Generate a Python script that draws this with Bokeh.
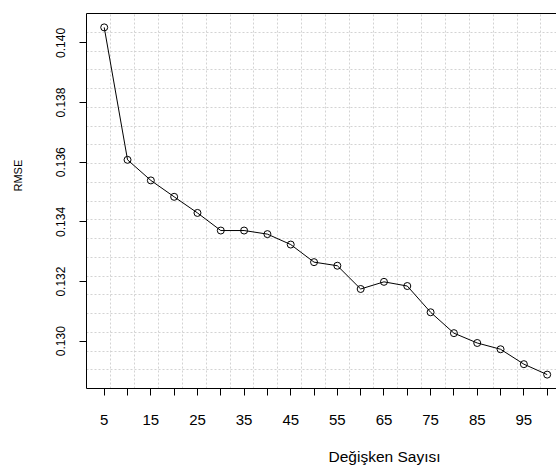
from bokeh.plotting import figure
from bokeh.models import FixedTicker, LinearAxis, Range1d, PrintfTickFormatter, Title
from bokeh.embed import file_html
from bokeh.resources import INLINE

# ---- data ----
n_vars = [5, 10, 15, 20, 25, 30, 35, 40, 45, 50, 55, 60, 65, 70, 75, 80, 85, 90, 95, 100]
rmse = [0.14052, 0.13608, 0.13539, 0.13484, 0.13430, 0.13371, 0.13371, 0.13359,
        0.13324, 0.13265, 0.13253, 0.13175, 0.13199, 0.13185, 0.13097, 0.13027,
        0.12994, 0.12973, 0.12923, 0.12888]
x_ticks_all = [5, 10, 15, 20, 25, 30, 35, 40, 45, 50, 55, 60, 65, 70, 75, 80, 85, 90, 95, 100]
x_ticks_labeled = [5, 15, 25, 35, 45, 55, 65, 75, 85, 95]
y_ticks = [0.130, 0.132, 0.134, 0.136, 0.138, 0.140]
x_title = "Değişken Sayısı"
y_title = "RMSE"

FONT = "Liberation Sans"

# R-style axis limits (4% extension)
xr = max(n_vars) - min(n_vars)
x_lo, x_hi_r = min(n_vars) - 0.04 * xr, max(n_vars) + 0.04 * xr
yr = max(rmse) - min(rmse)
y_lo, y_hi = min(rmse) - 0.04 * yr, max(rmse) + 0.04 * yr
x_hi = 102.0  # visible part of the (cropped) plot region

W, H = 556, 467
ML, MR, MT, MB = 86, 0, 13, 79

p = figure(width=W, height=H, x_range=Range1d(x_lo, x_hi), y_range=Range1d(y_lo, y_hi),
           output_backend="svg", toolbar_location=None,
           min_border_left=ML, min_border_right=MR, min_border_top=MT, min_border_bottom=MB)
p.outline_line_color = None
p.background_fill_color = "white"
p.border_fill_color = "white"

# grid like R grid(20, 20)
gx = [x_lo + k * (x_hi_r - x_lo) / 20 for k in range(1, 20)]
gy = [y_lo + k * (y_hi - y_lo) / 20 for k in range(1, 20)]
p.xgrid.ticker = FixedTicker(ticks=gx)
p.ygrid.ticker = FixedTicker(ticks=gy)
for g in (p.xgrid, p.ygrid):
    g.grid_line_color = "#d3d3d3"
    g.grid_line_dash = "2 2"
    g.grid_line_width = 1

# x axis
xa = p.xaxis[0]
xa.ticker = FixedTicker(ticks=x_ticks_labeled,
                        minor_ticks=[t for t in x_ticks_all if t not in x_ticks_labeled])
xa.axis_line_color = "black"
xa.major_tick_line_color = "black"
xa.minor_tick_line_color = "black"
xa.major_tick_in = 0
xa.major_tick_out = 7
xa.minor_tick_in = 0
xa.minor_tick_out = 7
xa.major_label_standoff = 19
xa.major_label_text_font = FONT
xa.major_label_text_font_size = "15px"
xa.major_label_text_color = "black"
# invisible spacer between tick labels and the title
xa.axis_label = " "
xa.axis_label_text_font_size = "1px"
xa.axis_label_text_alpha = 0
xa.axis_label_standoff = 16

# y axis
ya = p.yaxis[0]
ya.ticker = FixedTicker(ticks=y_ticks)
ya.formatter = PrintfTickFormatter(format="%.3f")
ya.axis_line_color = "black"
ya.major_tick_line_color = "black"
ya.major_tick_in = 0
ya.major_tick_out = 7
ya.minor_tick_line_color = None
ya.major_label_orientation = "parallel"
ya.major_label_standoff = 14
ya.major_label_text_font = FONT
ya.major_label_text_font_size = "12px"
ya.major_label_text_color = "black"
ya.axis_label = " "
ya.axis_label_text_font_size = "1px"
ya.axis_label_text_alpha = 0
ya.axis_label_standoff = 24

# axis titles (offset along the axis as in the reference)
p.add_layout(Title(text=x_title, align="left", offset=242, vertical_align="top", standoff=0,
                   text_font=FONT, text_font_size="15.5px", text_font_style="normal",
                   text_color="black"), "below")
p.add_layout(Title(text=y_title, align="left", offset=197, vertical_align="top", standoff=0,
                   text_font=FONT, text_font_size="11px", text_font_style="normal",
                   text_color="black"), "left")

# top border line
top = LinearAxis(ticker=FixedTicker(ticks=[]), major_tick_in=0, major_tick_out=0,
                 minor_tick_in=0, minor_tick_out=0, major_label_standoff=0,
                 axis_line_color="black", major_label_text_font_size="0px")
p.add_layout(top, "above")

# data
p.line(n_vars, rmse, line_color="black", line_width=1)
p.scatter(n_vars, rmse, marker="circle", size=7, fill_color=None,
          line_color="black", line_width=1)

open("out.html", "w").write(file_html(p, INLINE))
